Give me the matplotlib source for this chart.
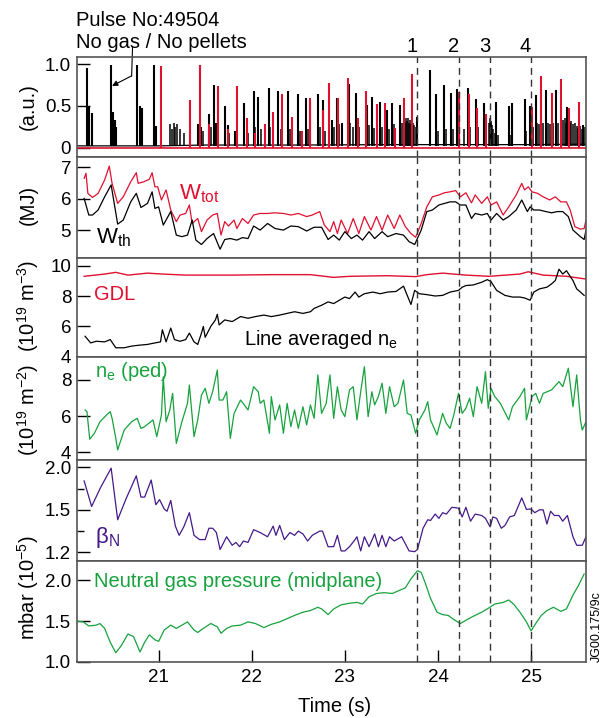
import matplotlib
matplotlib.use('Agg')
import matplotlib.pyplot as plt
import numpy as np

plt.rcParams['font.family'] = ['Liberation Sans', 'DejaVu Sans']
plt.rcParams['mathtext.fontset'] = 'custom'
plt.rcParams['mathtext.rm'] = 'Liberation Sans'
plt.rcParams['mathtext.it'] = 'Liberation Sans:italic'
plt.rcParams['font.size'] = 14

RED = '#e0102f'
GREEN = '#17a23e'
PURPLE = '#45198a'
FRAME = '#555555'

# ---- data ----
events = [23.78, 24.23, 24.56, 25.0]
event_labels = ['1', '2', '3', '4']

# D-alpha type signal: black ELM spikes, small "grass" and red spikes (a.u.)
black_spikes = [
    (20.23, 0.95), (20.25, 0.50), (20.28, 0.41), (20.49, 0.99), (20.51, 0.43),
    (20.53, 0.33), (20.54, 0.25), (20.77, 0.99), (20.80, 0.50), (20.82, 0.48),
    (20.95, 0.99), (20.97, 0.26), (21.42, 0.28), (21.46, 0.25), (21.54, 0.40),
    (21.60, 0.75), (21.62, 0.30), (21.71, 0.50), (21.74, 0.27), (21.82, 0.20),
    (21.92, 0.53), (22.02, 0.68), (22.07, 0.61), (22.18, 0.72), (22.28, 0.68),
    (22.39, 0.68), (22.50, 0.64), (22.58, 0.60), (22.63, 0.55), (22.71, 0.64),
    (22.76, 0.57), (22.86, 0.33), (22.92, 0.59), (22.97, 0.29), (23.04, 0.76),
    (23.12, 0.65), (23.24, 0.51), (23.29, 0.61), (23.38, 0.55), (23.45, 0.45),
    (23.51, 0.53), (23.59, 0.51), (23.77, 0.37), (23.91, 0.93), (23.98, 0.64),
    (24.07, 0.75), (24.14, 0.66), (24.20, 0.70), (24.32, 0.72), (24.41, 0.58),
    (24.49, 0.53), (24.62, 0.55), (24.76, 0.50), (24.80, 0.53), (24.93, 0.58),
    (24.99, 0.50), (25.05, 0.63), (25.16, 0.69), (25.27, 0.69), (25.39, 0.49),
    (25.56, 0.27),
]
black_grass = [
    (21.12, 0.28), (21.14, 0.22), (21.16, 0.30), (21.18, 0.25), (21.20, 0.28),
    (21.23, 0.22), (21.27, 0.18), (21.48, 0.20), (21.56, 0.25), (21.64, 0.22),
    (21.76, 0.18), (21.96, 0.18), (22.04, 0.25), (22.10, 0.22), (22.20, 0.25),
    (22.31, 0.22), (22.41, 0.22), (22.52, 0.20), (22.60, 0.22), (22.73, 0.25),
    (22.79, 0.20), (22.88, 0.25), (22.94, 0.28), (23.06, 0.30), (23.09, 0.25),
    (23.15, 0.25), (23.26, 0.27), (23.31, 0.24), (23.40, 0.25), (23.47, 0.22),
    (23.53, 0.28), (23.61, 0.30), (23.64, 0.33), (23.65, 0.30), (23.66, 0.36),
    (23.67, 0.32), (23.68, 0.35), (23.69, 0.30), (23.70, 0.33), (23.71, 0.28),
    (23.73, 0.30), (23.74, 0.27), (23.76, 0.25), (24.00, 0.20), (24.09, 0.22),
    (24.16, 0.22), (24.22, 0.25), (24.28, 0.22), (24.34, 0.25), (24.43, 0.25),
    (24.51, 0.28), (24.545, 0.30), (24.555, 0.35), (24.565, 0.32), (24.575, 0.30),
    (24.585, 0.27), (24.595, 0.22), (24.61, 0.18), (24.64, 0.15), (24.78, 0.15),
    (24.95, 0.20), (25.02, 0.25), (25.06, 0.30), (25.08, 0.28), (25.13, 0.30),
    (25.18, 0.30), (25.20, 0.28), (25.24, 0.30), (25.29, 0.30), (25.34, 0.33),
    (25.36, 0.35), (25.37, 0.30), (25.41, 0.33), (25.42, 0.30), (25.43, 0.32),
    (25.45, 0.28), (25.47, 0.30), (25.49, 0.26), (25.50, 0.24), (25.53, 0.26),
    (25.55, 0.22), (25.58, 0.25),
]
black_base = [(20.12, 0.02), (21.0, 0.02), (21.5, 0.03), (22.5, 0.03), (23.5, 0.035),
              (23.8, 0.035), (24.6, 0.035), (25.0, 0.035), (25.59, 0.04)]
red_spikes = [
    (21.03, 0.98), (21.34, 0.57), (21.44, 0.99), (21.54, 0.28), (21.64, 0.74),
    (21.75, 0.22), (21.84, 0.74), (21.95, 0.35), (22.04, 0.18), (22.14, 0.28),
    (22.23, 0.43), (22.33, 0.64), (22.43, 0.37), (22.54, 0.20), (22.63, 0.59),
    (22.76, 0.45), (22.83, 0.77), (22.93, 0.60), (23.03, 0.83), (23.14, 0.35),
    (23.23, 0.68), (23.34, 0.52), (23.43, 0.54), (23.54, 0.23), (23.63, 0.59),
    (23.72, 0.88), (24.23, 0.67), (24.33, 0.64), (24.42, 0.47), (24.52, 0.40),
    (25.01, 0.49), (25.11, 0.86), (25.22, 0.65), (25.32, 0.82), (25.41, 0.48),
    (25.51, 0.55),
]

# stored energies (MJ)
w_tot = [
    (20.20, 6.65), (20.22, 6.81), (20.24, 6.17), (20.29, 6.04), (20.35, 6.17),
    (20.42, 6.60), (20.47, 7.04), (20.50, 6.49), (20.56, 5.85), (20.62, 6.06),
    (20.70, 6.54), (20.76, 6.83), (20.78, 6.49), (20.84, 6.54), (20.90, 6.62),
    (20.93, 6.83), (20.96, 6.38), (20.99, 6.38), (21.03, 5.96), (21.08, 6.28),
    (21.13, 5.64), (21.19, 5.27), (21.23, 5.48), (21.29, 5.53), (21.33, 5.80),
    (21.36, 5.21), (21.42, 5.37), (21.46, 4.95), (21.52, 5.32), (21.58, 5.48),
    (21.63, 5.53), (21.67, 4.84), (21.71, 5.27), (21.75, 5.13), (21.81, 5.32),
    (21.84, 5.05), (21.90, 5.37), (21.96, 5.21), (22.02, 5.48), (22.09, 5.53),
    (22.17, 5.53), (22.25, 5.55), (22.34, 5.53), (22.42, 5.48), (22.50, 5.53),
    (22.59, 5.43), (22.65, 5.48), (22.73, 5.59), (22.78, 5.16), (22.84, 4.95),
    (22.88, 5.27), (22.92, 4.89), (22.96, 5.32), (23.03, 4.89), (23.09, 5.37),
    (23.15, 4.89), (23.21, 5.43), (23.28, 5.00), (23.34, 5.43), (23.40, 5.00),
    (23.46, 5.48), (23.53, 5.05), (23.59, 5.48), (23.65, 5.11), (23.71, 4.89),
    (23.76, 4.77), (23.82, 5.21), (23.88, 5.74), (23.94, 6.06), (24.01, 6.12),
    (24.07, 6.19), (24.13, 6.22), (24.19, 6.26), (24.24, 6.06), (24.30, 6.19),
    (24.36, 5.87), (24.40, 6.12), (24.47, 5.85), (24.53, 6.06), (24.57, 5.80),
    (24.63, 5.90), (24.70, 5.48), (24.76, 5.74), (24.84, 6.12), (24.90, 6.49),
    (24.93, 6.28), (24.97, 6.38), (25.01, 6.22), (25.07, 6.17), (25.13, 6.06),
    (25.20, 5.96), (25.26, 6.06), (25.32, 5.90), (25.38, 5.90), (25.42, 5.64),
    (25.47, 5.11), (25.53, 5.03), (25.57, 5.05), (25.59, 5.32),
]
w_th = [
    (20.20, 6.01), (20.25, 5.48), (20.29, 5.48), (20.35, 5.64), (20.42, 6.06),
    (20.49, 6.44), (20.56, 5.19), (20.62, 5.32), (20.70, 5.90), (20.76, 6.17),
    (20.81, 5.72), (20.88, 5.85), (20.93, 6.22), (20.96, 5.69), (21.00, 5.74),
    (21.05, 5.16), (21.13, 5.59), (21.19, 4.84), (21.25, 4.79), (21.31, 4.84),
    (21.36, 5.32), (21.40, 4.68), (21.46, 4.54), (21.52, 4.73), (21.59, 4.89),
    (21.66, 4.39), (21.71, 4.70), (21.77, 4.73), (21.84, 4.68), (21.90, 4.76),
    (21.96, 4.73), (22.02, 5.13), (22.09, 5.00), (22.17, 5.21), (22.25, 5.05),
    (22.34, 5.00), (22.42, 5.13), (22.50, 5.11), (22.59, 4.97), (22.67, 5.09),
    (22.75, 5.09), (22.82, 4.70), (22.88, 4.84), (22.94, 4.68), (23.00, 4.95),
    (23.07, 4.73), (23.13, 4.84), (23.19, 4.68), (23.26, 4.95), (23.32, 4.73),
    (23.40, 4.95), (23.46, 4.79), (23.55, 4.89), (23.63, 4.84), (23.69, 4.63),
    (23.75, 4.54), (23.82, 5.00), (23.88, 5.59), (23.94, 5.64), (24.01, 5.80),
    (24.07, 5.85), (24.13, 5.90), (24.19, 5.90), (24.24, 5.80), (24.30, 5.80),
    (24.36, 5.37), (24.40, 5.53), (24.47, 5.48), (24.53, 5.53), (24.57, 5.32),
    (24.63, 5.53), (24.70, 5.32), (24.76, 5.43), (24.84, 5.64), (24.90, 5.96),
    (24.96, 5.59), (24.99, 5.74), (25.03, 5.64), (25.09, 5.64), (25.16, 5.59),
    (25.22, 5.55), (25.28, 5.59), (25.34, 5.59), (25.40, 5.43), (25.45, 5.00),
    (25.53, 4.79), (25.57, 4.70), (25.59, 5.00),
]

# densities (1e19 m^-3)
gdl = [
    (20.20, 9.31), (20.42, 9.46), (20.54, 9.57), (20.67, 9.39), (20.88, 9.52),
    (21.04, 9.46), (21.29, 9.39), (21.54, 9.39), (21.79, 9.39), (22.21, 9.42),
    (22.63, 9.42), (22.88, 9.24), (23.05, 9.31), (23.46, 9.35), (23.76, 9.29),
    (23.88, 9.42), (24.05, 9.52), (24.30, 9.39), (24.55, 9.31), (24.88, 9.46),
    (24.97, 9.61), (25.13, 9.39), (25.38, 9.31), (25.59, 9.13),
]
ne_line = [
    (20.21, 5.35), (20.27, 4.91), (20.33, 5.02), (20.42, 4.98), (20.48, 5.13),
    (20.54, 4.59), (20.63, 4.59), (20.71, 4.70), (20.79, 4.76), (20.88, 4.81),
    (20.96, 4.91), (21.02, 4.98), (21.04, 5.78), (21.08, 4.98), (21.13, 5.89),
    (21.17, 5.13), (21.23, 5.02), (21.29, 5.13), (21.33, 5.56), (21.38, 4.98),
    (21.42, 4.81), (21.46, 5.56), (21.48, 6.00), (21.50, 5.28), (21.56, 6.00),
    (21.61, 6.43), (21.63, 6.80), (21.65, 6.10), (21.71, 6.43), (21.79, 6.32),
    (21.88, 6.65), (21.96, 6.54), (22.04, 6.65), (22.13, 6.75), (22.21, 6.65),
    (22.30, 6.75), (22.38, 6.86), (22.46, 6.97), (22.55, 6.86), (22.63, 6.97),
    (22.67, 7.19), (22.75, 7.40), (22.82, 7.62), (22.88, 7.51), (22.94, 7.73),
    (23.00, 7.94), (23.05, 7.84), (23.11, 8.27), (23.15, 7.94), (23.21, 8.16),
    (23.30, 8.27), (23.38, 8.16), (23.46, 8.27), (23.55, 8.31), (23.63, 8.66),
    (23.67, 8.05), (23.71, 7.45), (23.75, 8.38), (23.80, 8.16), (23.88, 8.10),
    (23.97, 8.01), (24.05, 8.05), (24.13, 8.27), (24.22, 8.38), (24.26, 8.59),
    (24.30, 8.70), (24.38, 8.74), (24.47, 8.92), (24.53, 9.09), (24.57, 8.96),
    (24.63, 8.38), (24.72, 8.05), (24.80, 7.94), (24.88, 7.94), (24.93, 7.88),
    (24.99, 7.73), (25.03, 8.27), (25.09, 8.48), (25.17, 8.59), (25.22, 8.81),
    (25.26, 9.03), (25.30, 9.78), (25.34, 9.46), (25.38, 9.68), (25.45, 9.03),
    (25.49, 8.48), (25.53, 8.27), (25.57, 8.05),
]

# pedestal density (1e19 m^-2)
ne_ped = [
    (20.21, 6.34), (20.23, 6.25), (20.26, 4.72), (20.31, 5.05), (20.37, 5.69),
    (20.44, 6.06), (20.48, 6.25), (20.50, 5.88), (20.54, 4.77), (20.56, 4.13),
    (20.63, 5.23), (20.71, 5.69), (20.77, 5.88), (20.81, 5.32), (20.85, 5.42),
    (20.94, 5.79), (20.98, 4.86), (21.03, 6.06), (21.05, 8.18), (21.08, 5.69),
    (21.12, 6.34), (21.15, 7.26), (21.19, 4.49), (21.25, 5.69), (21.31, 6.71),
    (21.33, 7.72), (21.38, 4.86), (21.42, 5.79), (21.46, 7.17), (21.50, 7.54),
    (21.54, 6.71), (21.58, 7.35), (21.63, 8.55), (21.65, 6.89), (21.69, 6.89),
    (21.73, 7.35), (21.77, 4.77), (21.81, 6.15), (21.88, 6.89), (21.92, 6.62),
    (21.96, 6.34), (22.02, 7.63), (22.07, 7.35), (22.09, 6.71), (22.13, 6.89),
    (22.19, 5.05), (22.21, 7.08), (22.25, 5.79), (22.30, 6.62), (22.34, 5.05),
    (22.38, 6.71), (22.42, 5.42), (22.46, 6.34), (22.50, 5.32), (22.55, 6.52),
    (22.59, 5.51), (22.63, 6.62), (22.67, 5.88), (22.71, 8.28), (22.75, 6.15),
    (22.80, 6.71), (22.84, 8.28), (22.88, 5.88), (22.92, 7.63), (22.96, 6.34),
    (23.00, 5.97), (23.05, 7.45), (23.09, 7.63), (23.13, 5.79), (23.17, 7.35),
    (23.21, 8.74), (23.25, 5.97), (23.29, 7.35), (23.32, 6.62), (23.36, 7.08),
    (23.40, 7.82), (23.44, 6.15), (23.48, 7.63), (23.53, 6.52), (23.57, 6.71),
    (23.63, 8.00), (23.67, 6.15), (23.71, 6.06), (23.76, 5.05), (23.80, 5.79),
    (23.86, 6.34), (23.89, 6.80), (23.92, 5.79), (23.99, 4.96), (24.05, 6.15),
    (24.09, 5.60), (24.13, 5.32), (24.17, 6.06), (24.22, 7.26), (24.26, 6.15),
    (24.30, 6.43), (24.34, 6.99), (24.38, 5.97), (24.42, 7.63), (24.47, 6.71),
    (24.51, 8.46), (24.54, 6.43), (24.57, 7.54), (24.61, 7.08), (24.67, 6.71),
    (24.76, 5.79), (24.80, 6.52), (24.88, 7.08), (24.93, 7.54), (24.95, 5.79),
    (25.01, 7.08), (25.05, 7.26), (25.09, 6.71), (25.13, 7.26), (25.22, 7.45),
    (25.30, 7.91), (25.34, 7.63), (25.40, 8.65), (25.45, 6.52), (25.49, 8.28),
    (25.53, 5.79), (25.55, 5.23), (25.59, 5.69),
]

# normalised beta
beta_n = [
    (20.20, 1.84), (20.28, 1.54), (20.38, 1.77), (20.49, 1.99), (20.56, 1.43),
    (20.65, 1.63), (20.76, 1.90), (20.81, 1.65), (20.85, 1.65), (20.92, 1.85),
    (20.97, 1.56), (21.01, 1.62), (21.06, 1.51), (21.09, 1.49), (21.13, 1.61),
    (21.18, 1.385), (21.22, 1.32), (21.27, 1.38), (21.33, 1.48), (21.38, 1.32),
    (21.44, 1.29), (21.50, 1.29), (21.54, 1.37), (21.58, 1.37), (21.62, 1.34),
    (21.66, 1.22), (21.73, 1.31), (21.79, 1.25), (21.83, 1.27), (21.87, 1.24),
    (21.91, 1.28), (21.96, 1.27), (22.02, 1.36), (22.09, 1.34), (22.17, 1.31),
    (22.23, 1.385), (22.26, 1.32), (22.30, 1.39), (22.35, 1.29), (22.41, 1.34),
    (22.46, 1.32), (22.50, 1.35), (22.55, 1.33), (22.60, 1.28), (22.65, 1.32),
    (22.73, 1.35), (22.76, 1.35), (22.82, 1.24), (22.88, 1.24), (22.92, 1.32),
    (22.96, 1.21), (23.00, 1.21), (23.05, 1.24), (23.11, 1.29), (23.13, 1.31),
    (23.17, 1.21), (23.21, 1.31), (23.26, 1.24), (23.32, 1.33), (23.36, 1.24),
    (23.40, 1.32), (23.44, 1.24), (23.48, 1.31), (23.53, 1.28), (23.61, 1.31),
    (23.69, 1.21), (23.75, 1.205), (23.78, 1.22), (23.84, 1.37), (23.89, 1.43),
    (23.92, 1.425), (23.97, 1.47), (24.01, 1.44), (24.05, 1.48), (24.09, 1.47),
    (24.15, 1.53), (24.22, 1.52), (24.26, 1.45), (24.30, 1.53), (24.35, 1.42),
    (24.40, 1.47), (24.47, 1.46), (24.51, 1.44), (24.56, 1.38), (24.59, 1.45),
    (24.63, 1.44), (24.68, 1.37), (24.72, 1.39), (24.77, 1.45), (24.82, 1.46),
    (24.90, 1.64), (24.95, 1.505), (25.00, 1.51), (25.04, 1.48), (25.09, 1.50),
    (25.13, 1.50), (25.17, 1.40), (25.21, 1.49), (25.25, 1.46), (25.30, 1.46),
    (25.34, 1.42), (25.39, 1.46), (25.45, 1.31), (25.49, 1.25), (25.55, 1.25),
    (25.59, 1.31),
]

# neutral gas pressure (1e-5 mbar)
p_neutral = [
    (20.12, 1.50), (20.19, 1.49), (20.25, 1.44), (20.33, 1.45), (20.37, 1.47),
    (20.42, 1.41), (20.48, 1.24), (20.54, 1.11), (20.60, 1.20), (20.67, 1.34),
    (20.73, 1.31), (20.80, 1.12), (20.85, 1.24), (20.90, 1.33), (20.96, 1.27),
    (21.00, 1.25), (21.06, 1.39), (21.13, 1.45), (21.19, 1.41), (21.25, 1.45),
    (21.31, 1.49), (21.38, 1.39), (21.42, 1.36), (21.48, 1.41), (21.56, 1.47),
    (21.63, 1.43), (21.67, 1.35), (21.73, 1.41), (21.79, 1.44), (21.88, 1.45),
    (21.96, 1.49), (22.04, 1.47), (22.13, 1.42), (22.21, 1.46), (22.30, 1.49),
    (22.38, 1.53), (22.46, 1.57), (22.55, 1.61), (22.63, 1.63), (22.71, 1.67),
    (22.75, 1.65), (22.82, 1.58), (22.88, 1.65), (22.96, 1.70), (23.05, 1.72),
    (23.13, 1.73), (23.19, 1.71), (23.26, 1.80), (23.34, 1.84), (23.42, 1.85),
    (23.51, 1.84), (23.59, 1.88), (23.65, 1.91), (23.71, 2.02), (23.78, 2.12),
    (23.82, 2.10), (23.86, 1.98), (23.92, 1.78), (23.99, 1.61), (24.05, 1.58),
    (24.11, 1.57), (24.17, 1.52), (24.24, 1.47), (24.30, 1.51), (24.38, 1.56),
    (24.47, 1.61), (24.53, 1.65), (24.61, 1.71), (24.70, 1.73), (24.76, 1.76),
    (24.82, 1.70), (24.88, 1.61), (24.95, 1.49), (25.00, 1.38), (25.05, 1.47),
    (25.11, 1.57), (25.17, 1.63), (25.24, 1.67), (25.32, 1.62), (25.38, 1.65),
    (25.45, 1.82), (25.51, 1.94), (25.57, 2.08),
]


def cols(pts):
    a = np.array(pts, dtype=float)
    return a[:, 0], a[:, 1]


# piecewise-linear scale used on the beta_N axis (2.0 / 1.5 / 1.2 evenly spaced)
def beta_fwd(v):
    v = np.asarray(v, dtype=float)
    return np.where(v < 1.5, (v - 1.2) / 0.3, 1.0 + (v - 1.5) / 0.5)


def beta_inv(u):
    u = np.asarray(u, dtype=float)
    return np.where(u < 1.0, 1.2 + 0.3 * u, 1.5 + 0.5 * (u - 1.0))


# ---- layout ----
W, H = 608, 718
TICK_FS = 13.5
TEXT_FS = 14.5
fig = plt.figure(figsize=(W / 100, H / 100), dpi=100)
left_px, right_px = 76.7, 586.0
panel_px = [(56.7, 156.7), (156.7, 258.3), (258.3, 356.7),
            (356.7, 460.0), (460.0, 561.0), (561.0, 661.7)]
axes = []
for top, bot in panel_px:
    ax = fig.add_axes([left_px / W, 1 - bot / H, (right_px - left_px) / W, (bot - top) / H])
    ax.set_xlim(20.12, 25.59)
    for s in ax.spines.values():
        s.set_color(FRAME)
        s.set_linewidth(1.2)
    ax.tick_params(axis='y', direction='in', length=9, width=1, pad=4, color='black',
                   labelsize=TICK_FS)
    ax.tick_params(axis='y', which='minor', direction='in', length=5, width=1)
    ax.tick_params(axis='x', which='both', bottom=False, labelbottom=False)
    for t in events:
        ax.axvline(t, color='#333333', lw=1.0, ls=(0, (5, 3.5)), zorder=5)
    axes.append(ax)
ax1, ax2, ax3, ax4, ax5, ax6 = axes

# panel 1
bt, bv = cols(black_base)
ax1.plot(bt, bv, color='black', lw=0.9)
st, sv = cols(black_spikes)
ax1.vlines(st, 0.02, sv, color='black', lw=1.5)
gt, gv = cols(black_grass)
ax1.vlines(gt, 0.02, gv, color='black', lw=1.1)
ax1.axhline(0, color=RED, lw=1.2)
rt, rv = cols(red_spikes)
ax1.vlines(rt, 0, rv, color=RED, lw=1.5)
ax1.set_ylim(-0.11, 1.09)
ax1.set_yticks([0, 0.5, 1.0])
ax1.set_yticklabels(['0', '0.5', '1.0'])
ax1.annotate('', xy=(20.50, 0.74), xytext=(20.71, 0.86),
             arrowprops=dict(arrowstyle='-|>', lw=0.8, color='black',
                             mutation_scale=8, shrinkA=0, shrinkB=0))
ax1.plot([20.71, 20.72], [0.86, 1.21], color='black', lw=0.8, clip_on=False)
for t, lab in zip(events, event_labels):
    ax1.annotate(lab, xy=(t, 1), xycoords=('data', 'axes fraction'),
                 xytext=(-4, 7), textcoords='offset points',
                 ha='center', va='center', fontsize=TEXT_FS)

# panel 2
t, v = cols(w_tot)
ax2.plot(t, v, color=RED, lw=0.9)
t, v = cols(w_th)
ax2.plot(t, v, color='black', lw=0.9)
ax2.set_ylim(4.10, 7.34)
ax2.set_yticks([5, 6, 7])
ax2.text(21.22, 6.17, r'W$_{\mathrm{tot}}$', color=RED, va='center', fontsize=16)
ax2.text(20.33, 4.77, r'W$_{\mathrm{th}}$', color='black', va='center', fontsize=16)

# panel 3
t, v = cols(gdl)
ax3.plot(t, v, color=RED, lw=1.0)
t, v = cols(ne_line)
ax3.plot(t, v, color='black', lw=0.9)
ax3.set_ylim(4, 10.5)
ax3.set_yticks([4, 6, 8, 10])
ax3.text(20.31, 8.10, 'GDL', color=RED, va='center', fontsize=TEXT_FS)
ax3.text(21.92, 5.13, r'Line averaged n$_{\mathrm{e}}$', color='black', va='center',
         fontsize=TEXT_FS)

# panel 4
t, v = cols(ne_ped)
ax4.plot(t, v, color=GREEN, lw=0.9)
ax4.set_ylim(3.57, 9.29)
ax4.set_yticks([4, 6, 8])
ax4.text(20.32, 8.46, r'n$_{\mathrm{e}}$ (ped)', color=GREEN, va='center', fontsize=TEXT_FS)

# panel 5
ax5.set_yscale('function', functions=(beta_fwd, beta_inv))
t, v = cols(beta_n)
ax5.plot(t, v, color=PURPLE, lw=0.9)
ax5.set_ylim(1.139, 2.086)
ax5.set_yticks([1.2, 1.5, 2.0])
ax5.set_yticks([1.35, 1.75], minor=True)
ax5.set_yticklabels(['1.2', '1.5', '2.0'])
ax5.yaxis.set_minor_formatter(plt.NullFormatter())
ax5.text(20.32, 1.307, r'β$_{\mathrm{N}}$', color=PURPLE, va='center', fontsize=16)

# panel 6
t, v = cols(p_neutral)
ax6.plot(t, v, color=GREEN, lw=0.9)
ax6.set_ylim(1.0, 2.24)
ax6.set_yticks([1.0, 1.5, 2.0])
ax6.set_yticklabels(['1.0', '1.5', '2.0'])
ax6.text(20.31, 1.99, 'Neutral gas pressure (midplane)', color=GREEN, va='center',
         fontsize=TEXT_FS)
ax6.tick_params(axis='x', which='major', bottom=True, labelbottom=True, direction='in',
                length=9, width=1, pad=5, labelsize=TICK_FS)
ax6.set_xticks([21, 22, 23, 24, 25])

# y labels and annotations
ylabels = [('(a.u.)', 107), ('(MJ)', 205), (r'(10$^{19}$ m$^{-3}$)', 306),
           (r'(10$^{19}$ m$^{-2}$)', 410), (r'mbar (10$^{-5}$)', 588)]
for txt, ypx in ylabels:
    fig.text(28 / W, 1 - ypx / H, txt, rotation=90, ha='center', va='center', fontsize=TEXT_FS)

fig.text(76 / W, 1 - 20 / H, 'Pulse No:49504', ha='left', va='center', fontsize=TEXT_FS)
fig.text(76 / W, 1 - 42 / H, 'No gas / No pellets', ha='left', va='center', fontsize=TEXT_FS)
fig.text(335 / W, 1 - 706 / H, 'Time (s)', ha='center', va='center', fontsize=TEXT_FS)
fig.text(597 / W, 1 - 627 / H, 'JG00.175/9c', rotation=90, ha='center', va='center', fontsize=9)

fig.savefig('out.png', dpi=100)
